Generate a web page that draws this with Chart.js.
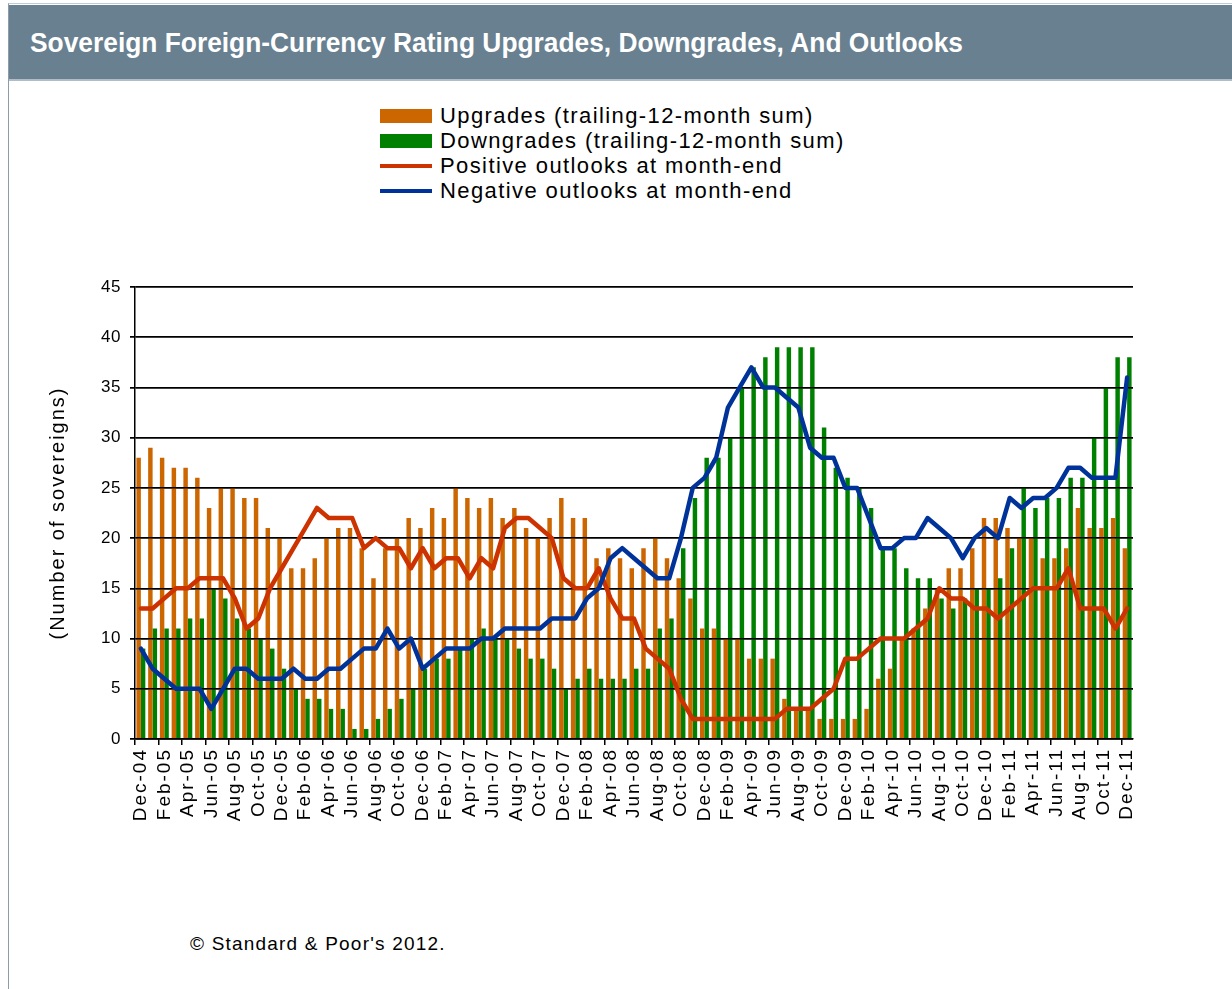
<!DOCTYPE html>
<html><head><meta charset="utf-8">
<script src="https://cdn.jsdelivr.net/npm/chart.js@4.4.1/dist/chart.umd.min.js"></script>
<style>
html,body{margin:0;padding:0;background:#fff;}
body{width:1232px;height:989px;position:relative;overflow:hidden;font-family:"Liberation Sans",Arial,sans-serif;color:#000;}
#frame{position:absolute;left:8px;top:3px;width:1230px;height:990px;border-left:1px solid #8f9ca8;border-top:1px solid #c2ccd4;}
#titlebar{position:absolute;left:9px;top:5px;width:1223px;height:74px;background:#68808f;border-bottom:2px solid #aebdc8;}
#title{position:absolute;left:21px;top:23px;color:#fff;font:bold 27px "Liberation Sans",Arial,sans-serif;white-space:nowrap;transform-origin:0 0;}
#legend{position:absolute;left:380px;top:103px;}
.row{height:25px;display:flex;align-items:center;font-size:22px;letter-spacing:1.4px;white-space:nowrap;}
.sym{width:52px;margin-right:8px;flex:none;}
#footer{position:absolute;left:190px;top:933px;font-size:19px;letter-spacing:1.2px;white-space:nowrap;}
#wrap{position:absolute;left:0;top:260px;width:1232px;height:600px;}
</style></head>
<body>
<div id="frame"></div>
<div id="titlebar"><div id="title">Sovereign Foreign-Currency Rating Upgrades, Downgrades, And Outlooks</div></div>
<div id="legend"></div>
<div id="wrap"><canvas id="c" width="1232" height="600"></canvas></div>
<div id="footer">© Standard &amp; Poor's 2012.</div>
<script>
const months = ['Dec-04',
 'Jan-05','Feb-05','Mar-05','Apr-05','May-05','Jun-05','Jul-05','Aug-05','Sep-05','Oct-05','Nov-05','Dec-05',
 'Jan-06','Feb-06','Mar-06','Apr-06','May-06','Jun-06','Jul-06','Aug-06','Sep-06','Oct-06','Nov-06','Dec-06',
 'Jan-07','Feb-07','Mar-07','Apr-07','May-07','Jun-07','Jul-07','Aug-07','Sep-07','Oct-07','Nov-07','Dec-07',
 'Jan-08','Feb-08','Mar-08','Apr-08','May-08','Jun-08','Jul-08','Aug-08','Sep-08','Oct-08','Nov-08','Dec-08',
 'Jan-09','Feb-09','Mar-09','Apr-09','May-09','Jun-09','Jul-09','Aug-09','Sep-09','Oct-09','Nov-09','Dec-09',
 'Jan-10','Feb-10','Mar-10','Apr-10','May-10','Jun-10','Jul-10','Aug-10','Sep-10','Oct-10','Nov-10','Dec-10',
 'Jan-11','Feb-11','Mar-11','Apr-11','May-11','Jun-11','Jul-11','Aug-11','Sep-11','Oct-11','Nov-11','Dec-11'];

const upgrades = [28,29,28,27,27,26,23,25,25,24, 24,21,20,17,17,18,20,21,21,19,
 16,19,20,22,21,23,22,25,24,23, 24,22,23,21,20,22,24,22,22,18,
 19,18,17,19,20,18,16,14,11,11, 10,10,8,8,8,4,3,3,2,2,
 2,2,3,6,7,10,11,13,15,17, 17,19,22,22,21,20,20,18,18,19,
 23,21,21,22,19];

const downgrades = [9,11,11,11,12,12,15,14,12,11, 10,9,7,5,4,4,3,3,1,1,
 2,3,4,5,7,8,8,9,10,11, 10,10,9,8,8,7,5,6,7,6,
 6,6,7,7,11,12,19,24,28,28, 30,35,37,38,39,39,39,39,31,27,
 26,25,23,19,19,17,16,16,14,13, 14,15,15,16,19,25,23,24,24,26,
 26,30,35,38,38];

const positiveOutlooks = [13,13,14,15,15,16,16,16,14,11, 12,15,17,19,21,23,22,22,22,19,
 20,19,19,17,19,17,18,18,16,18, 17,21,22,22,21,20,16,15,15,17,
 14,12,12,9,8,7,4,2,2,2, 2,2,2,2,2,3,3,3,4,5,
 8,8,9,10,10,10,11,12,15,14, 14,13,13,12,13,14,15,15,15,17,
 13,13,13,11,13];

const negativeOutlooks = [9,7,6,5,5,5,3,5,7,7, 6,6,6,7,6,6,7,7,8,9,
 9,11,9,10,7,8,9,9,9,10, 10,11,11,11,11,12,12,12,14,15,
 18,19,18,17,16,16,20,25,26,28, 33,35,37,35,35,34,33,29,28,28,
 25,25,22,19,19,20,20,22,21,20, 18,20,21,20,24,23,24,24,25,27,
 27,26,26,26,36];

const yTicks = [0,5,10,15,20,25,30,35,40,45];

const seriesNames = ['Upgrades (trailing-12-month sum)','Downgrades (trailing-12-month sum)',
  'Positive outlooks at month-end','Negative outlooks at month-end'];
const COLORS = {up:'#CC6600', down:'#008000', pos:'#CC3300', neg:'#003399'};
const FONT = '"Liberation Sans", Arial, sans-serif';

// title fit
const t = document.getElementById('title');
const tw = t.getBoundingClientRect().width;
t.style.transform = 'scaleX(' + (933 / tw) + ')';

// letter spacing for canvas text (per scale)
const lsPlugin = {
  id: 'ls',
  afterLayout(chart) {
    const patch = (scale, method, ls) => {
      if (!scale || scale['_p_' + method]) return;
      const orig = scale[method];
      scale[method] = function(...args) {
        const c = this.ctx;
        const prev = c.letterSpacing;
        c.letterSpacing = ls;
        try { return orig.apply(this, args); } finally { c.letterSpacing = prev || '0px'; }
      };
      scale['_p_' + method] = true;
    };
    patch(chart.scales.x, 'drawLabels', '2px');
    patch(chart.scales.y, 'drawLabels', '0.5px');
    patch(chart.scales.y, 'drawTitle', '2px');
  }
};
// horizontal gridlines shown over the bars, under the lines
const gridOverBars = {
  id: 'gridOverBars',
  beforeDatasetDraw(chart, args) {
    if (args.index === 2) chart.scales.y.drawGrid(chart.chartArea);
  }
};

const chart = new Chart(document.getElementById('c'), {
  type: 'bar',
  data: {
    labels: months,
    datasets: [
      {label: seriesNames[0], data: upgrades, backgroundColor: COLORS.up, order: 3,
       categoryPercentage: 0.76, barPercentage: 1.0},
      {label: seriesNames[1], data: downgrades, backgroundColor: COLORS.down, order: 3,
       categoryPercentage: 0.76, barPercentage: 1.0},
      {type: 'line', label: seriesNames[2], data: positiveOutlooks, borderColor: COLORS.pos,
       backgroundColor: COLORS.pos, borderWidth: 4.5, pointRadius: 0, tension: 0, order: 1,
       borderJoinStyle: 'round', borderCapStyle: 'round'},
      {type: 'line', label: seriesNames[3], data: negativeOutlooks, borderColor: COLORS.neg,
       backgroundColor: COLORS.neg, borderWidth: 4.5, pointRadius: 0, tension: 0, order: 0,
       borderJoinStyle: 'round', borderCapStyle: 'round'}
    ]
  },
  options: {
    responsive: false,
    animation: false,
    devicePixelRatio: 1,
    layout: {padding: {left: 40, right: 99, top: 27, bottom: 21}},
    plugins: {legend: {display: false}, tooltip: {enabled: false}, title: {display: false}},
    scales: {
      x: {
        offset: true,
        ticks: {autoSkip: false, maxRotation: 90, minRotation: 90, color: '#000',
          font: {family: FONT, size: 19}, padding: 3,
          callback: (v, i) => (i % 2 === 0 ? months[i] : '')},
        grid: {offset: true, drawOnChartArea: false, drawTicks: true, tickLength: 6, lineWidth: 1.5,
          color: c => (c.index % 2 === 0 ? '#000' : 'rgba(0,0,0,0)')},
        border: {color: '#000', width: 1.5},
        afterFit(scale) { scale.height = 100; }
      },
      y: {
        min: 0, max: 45,
        afterBuildTicks(scale) { scale.ticks = yTicks.map(v => ({value: v})); },
        ticks: {color: '#000', font: {family: FONT, size: 17}, padding: 9},
        grid: {color: '#000', lineWidth: 1.5, drawTicks: true, tickLength: 5},
        border: {color: '#000', width: 1.5},
        title: {display: true, text: '(Number of sovereigns)', color: '#000',
          font: {family: FONT, size: 20}, padding: {top: 6, bottom: 0}},
        afterFit(scale) { scale.width = 95; }
      }
    }
  },
  plugins: [lsPlugin, gridOverBars]
});

// HTML legend built from the chart's datasets
const lg = document.getElementById('legend');
chart.data.datasets.forEach(ds => {
  const row = document.createElement('div'); row.className = 'row';
  const sym = document.createElement('div'); sym.className = 'sym';
  if (ds.type === 'line') { sym.style.height = '4px'; sym.style.background = ds.borderColor; }
  else { sym.style.height = '14px'; sym.style.background = ds.backgroundColor; }
  const txt = document.createElement('span'); txt.textContent = ds.label;
  row.appendChild(sym); row.appendChild(txt); lg.appendChild(row);
});
</script>
</body></html>
